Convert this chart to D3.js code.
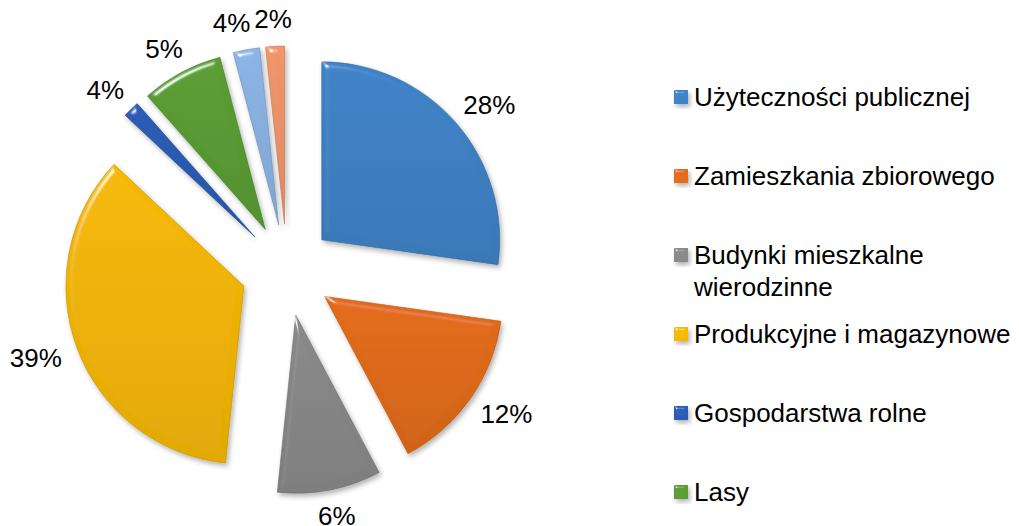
<!DOCTYPE html>
<meta charset="utf-8">
<style>
  body { margin: 0; background: #fff; }
  text { font-family: "Liberation Sans", Arial, sans-serif; fill: #000; }
</style>
<body>
<script src="https://cdn.jsdelivr.net/npm/d3@7"></script>
<script>

    var width = 1019,
        height = 526;

    var categories = ["Użyteczności publicznej", "Zamieszkania zbiorowego",
        "Budynki mieszkalne wierodzinne", "Produkcyjne i magazynowe",
        "Gospodarstwa rolne", "Lasy"];
    var values = [27.2, 15.0, 9.4, 35.3, 1.5, 7.4, 2.4, 1.7];
    var labels = ["28%", "12%", "6%", "39%", "4%", "5%", "4%", "2%"];
    var colors = ["#3f83c8", "#e46c1a", "#8a8a8a", "#f7b900",
        "#2b5db5", "#5b9e33", "#8cb4e6", "#f2956a"];

    var cx = 287, cy = 270, radius = 178, explode = 46;

    var svg = d3.select("body").append("svg")
            .attr("width", width)
            .attr("height", height);

    var defs = svg.append("defs");

    //斜面 + 阴影
    function bevelFilter(id, blur, scale) {
        var f = defs.append("filter").attr("id", id)
                .attr("x", "-20%").attr("y", "-20%")
                .attr("width", "150%").attr("height", "150%");
        f.append("feGaussianBlur").attr("in", "SourceAlpha")
                .attr("stdDeviation", blur).attr("result", "blur");
        f.append("feSpecularLighting").attr("in", "blur")
                .attr("surfaceScale", scale).attr("specularConstant", 1)
                .attr("specularExponent", 60).attr("lighting-color", "#fff")
                .attr("result", "spec")
            .append("feDistantLight").attr("azimuth", 235).attr("elevation", 40);
        f.append("feComposite").attr("in", "spec").attr("in2", "SourceAlpha")
                .attr("operator", "in").attr("result", "specIn");
        f.append("feComposite").attr("in", "SourceGraphic").attr("in2", "specIn")
                .attr("operator", "arithmetic").attr("k1", 0).attr("k2", 1)
                .attr("k3", 0.8).attr("k4", 0).attr("result", "lit");
        f.append("feGaussianBlur").attr("in", "SourceAlpha")
                .attr("stdDeviation", 2.5).attr("result", "sb");
        f.append("feOffset").attr("in", "sb").attr("dx", 2).attr("dy", 3)
                .attr("result", "so");
        f.append("feFlood").attr("flood-color", "#000")
                .attr("flood-opacity", 0.3).attr("result", "sc");
        f.append("feComposite").attr("in", "sc").attr("in2", "so")
                .attr("operator", "in").attr("result", "shadow");
        var m = f.append("feMerge");
        m.append("feMergeNode").attr("in", "shadow");
        m.append("feMergeNode").attr("in", "lit");
    }
    bevelFilter("bevel", 3, 4);
    bevelFilter("bevelSmall", 1.5, 2);

    colors.forEach(function(c, i) {
        var g = defs.append("linearGradient").attr("id", "grad" + i)
                .attr("x1", 0).attr("y1", 0).attr("x2", 0).attr("y2", 1);
        g.append("stop").attr("offset", "0%").attr("stop-color", c);
        g.append("stop").attr("offset", "100%").attr("stop-color", d3.color(c).darker(0.25));
    });

    var pie = d3.pie().sort(null).value(function(d) { return d; });
    var arcs = pie(values);

    var arc = d3.arc().innerRadius(0).outerRadius(radius);

    var chart = svg.append("g").attr("transform", "translate(" + cx + "," + cy + ")");

    function offset(d) {
        var a = (d.startAngle + d.endAngle) / 2;
        return [Math.sin(a) * explode, -Math.cos(a) * explode];
    }

    chart.selectAll("path.slice")
            .data(arcs)
            .enter().append("path")
            .attr("class", "slice")
            .attr("transform", function(d) { return "translate(" + offset(d) + ")"; })
            .attr("d", arc)
            .attr("fill", function(d, i) { return "url(#grad" + i + ")"; })
            .attr("stroke", function(d, i) { return d3.color(colors[i]).darker(0.7); })
            .attr("stroke-width", 0.6)
            .attr("filter", "url(#bevel)");

    //数据标签 (outside end)
    var labelGap = 18, boxH = 18, boxes = [];
    var lbl = chart.selectAll("text.lbl")
            .data(arcs)
            .enter().append("text")
            .attr("class", "lbl")
            .attr("font-size", 26)
            .attr("text-anchor", "middle")
            .attr("dominant-baseline", "central")
            .text(function(d, i) { return labels[i]; })
            .each(function(d) {
                var a = (d.startAngle + d.endAngle) / 2,
                    s = Math.sin(a), c = -Math.cos(a),
                    w = this.getComputedTextLength(),
                    r = explode + radius + labelGap;
                boxes.push({ x: s * r + s * w / 2, y: c * r + c * boxH / 2, w: w });
            });

    // push overlapping neighbours apart (left one moves left)
    for (var i = boxes.length - 1; i > 0; i--) {
        var b = boxes[i], p = boxes[i - 1];
        if (Math.abs(b.y - p.y) < 24) {
            var over = (p.x + p.w / 2 + 4) - (b.x - b.w / 2);
            if (over > 0 && p.x < b.x) p.x -= over;
        }
    }
    lbl.attr("x", function(d, i) { return boxes[i].x; })
       .attr("y", function(d, i) { return boxes[i].y; });

    //图例
    var legend = svg.append("g").attr("transform", "translate(674,97)");
    var item = legend.selectAll("g")
            .data(categories)
            .enter().append("g")
            .attr("transform", function(d, i) { return "translate(0," + (i * 79) + ")"; });

    item.append("rect")
            .attr("x", 0).attr("y", -7)
            .attr("width", 14).attr("height", 14)
            .attr("fill", function(d, i) { return colors[i]; })
            .attr("filter", "url(#bevelSmall)");

    item.append("text")
            .attr("x", 20)
            .attr("font-size", 26)
            .attr("dominant-baseline", "central")
            .each(function(d) {
                var t = d3.select(this), words = d.split(" "), line = [];
                var ts = t.append("tspan").attr("x", 20).attr("dy", 0);
                words.forEach(function(w) {
                    line.push(w);
                    ts.text(line.join(" "));
                    if (ts.node().getComputedTextLength() > 320 && line.length > 1) {
                        line.pop();
                        ts.text(line.join(" "));
                        line = [w];
                        ts = t.append("tspan").attr("x", 20).attr("dy", 32).text(w);
                    }
                });
            });

</script>
